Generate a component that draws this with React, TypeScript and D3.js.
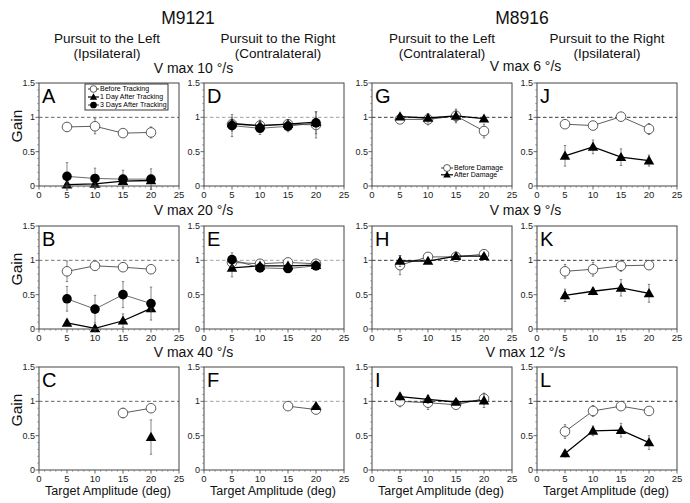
import React from 'react';
import * as d3 from 'd3';

// ---------- data ----------
const amplitudes = [5, 10, 15, 20];
const xTicks = [0, 5, 10, 15, 20, 25];
const yTicks = [0, 0.5, 1, 1.5];
const yTickLabels = ['0', '0.5', '1', '1.5'];

// M9121 – V max 10
const aBefore = [0.86, 0.87, 0.77, 0.78];
const aBeforeErr = [0.06, 0.11, 0.03, 0.08];
const aDay1 = [0.02, 0.03, 0.07, 0.08];
const aDay1Err = [0.01, 0.02, 0.03, 0.04];
const aDay3 = [0.14, 0.11, 0.1, 0.1];
const aDay3Err = [0.2, 0.15, 0.13, 0.15];

const dBefore = [0.9, 0.88, 0.9, 0.89];
const dBeforeErr = [0.1, 0.08, 0.06, 0.19];
const dDay1 = [0.91, 0.88, 0.9, 0.93];
const dDay1Err = [0.05, 0.05, 0.05, 0.05];
const dDay3 = [0.88, 0.84, 0.87, 0.92];
const dDay3Err = [0.16, 0.09, 0.08, 0.16];

// M9121 – V max 20
const bBefore = [0.84, 0.92, 0.9, 0.87];
const bBeforeErr = [0.15, 0.04, 0.06, 0.03];
const bDay1 = [0.09, 0.01, 0.12, 0.3];
const bDay1Err = [0.04, 0.02, 0.1, 0.05];
const bDay3 = [0.44, 0.29, 0.5, 0.37];
const bDay3Err = [0.18, 0.2, 0.19, 0.24];

const eBefore = [0.97, 0.95, 0.97, 0.95];
const eBeforeErr = [0.05, 0.04, 0.04, 0.03];
const eDay1 = [0.89, 0.92, 0.92, 0.93];
const eDay1Err = [0.13, 0.04, 0.04, 0.03];
const eDay3 = [1.01, 0.89, 0.88, 0.92];
const eDay3Err = [0.1, 0.04, 0.04, 0.04];

// M9121 – V max 40
const cBeforeAmps = [15, 20];
const cBefore = [0.83, 0.9];
const cBeforeErr = [0.07, 0.03];
const cDay1Amps = [20];
const cDay1 = [0.48];
const cDay1Err = [0.25];

const fBeforeAmps = [15, 20];
const fBefore = [0.93, 0.88];
const fBeforeErr = [0.03, 0.03];
const fDay1Amps = [20];
const fDay1 = [0.93];
const fDay1Err = [0.03];

// M8916 – V max 6
const gBefore = [0.97, 0.97, 1.02, 0.8];
const gBeforeErr = [0.04, 0.08, 0.1, 0.1];
const gAfter = [1.01, 0.99, 1.02, 0.98];
const gAfterErr = [0.03, 0.06, 0.08, 0.03];

const jBefore = [0.9, 0.88, 1.01, 0.83];
const jBeforeErr = [0.05, 0.05, 0.03, 0.08];
const jAfter = [0.44, 0.57, 0.42, 0.37];
const jAfterErr = [0.15, 0.1, 0.12, 0.08];

// M8916 – V max 9
const hBefore = [0.93, 1.05, 1.05, 1.09];
const hBeforeErr = [0.14, 0.04, 0.03, 0.04];
const hAfter = [0.99, 0.99, 1.06, 1.06];
const hAfterErr = [0.08, 0.03, 0.03, 0.03];

const kBefore = [0.84, 0.87, 0.92, 0.93];
const kBeforeErr = [0.1, 0.1, 0.08, 0.05];
const kAfter = [0.49, 0.55, 0.6, 0.52];
const kAfterErr = [0.09, 0.05, 0.12, 0.13];

// M8916 – V max 12
const iBefore = [1.0, 0.98, 0.95, 1.04];
const iBeforeErr = [0.08, 0.1, 0.05, 0.08];
const iAfter = [1.07, 1.03, 0.99, 1.01];
const iAfterErr = [0.05, 0.06, 0.04, 0.1];

const lBefore = [0.56, 0.86, 0.93, 0.86];
const lBeforeErr = [0.1, 0.08, 0.04, 0.03];
const lAfter = [0.24, 0.57, 0.58, 0.4];
const lAfterErr = [0.05, 0.07, 0.1, 0.1];

const leftLegend = ['Before Tracking', '1 Day After Tracking', '3 Days After Tracking'];
const rightLegend = ['Before Damage', 'After Damage'];
const velocityLeft = ['10', '20', '40'];
const velocityRight = ['6', '9', '12'];

// ---------- layout ----------
const W = 690;
const H = 503;
const colLeft = [39, 204, 372, 537];
const rowTop = [83, 226, 367];
const PW = 140;
const PH = 103;
const FONT = "'Liberation Sans', Arial, Helvetica, sans-serif";

type Kind = 'open' | 'tri' | 'filled';
interface Series { kind: Kind; x: number[]; y: number[]; err: number[] }
interface Panel { letter: string; col: number; row: number; dash: string; series: Series[] }

const S = (kind: Kind, x: number[], y: number[], err: number[]): Series => ({ kind, x, y, err });

const panels: Panel[] = [
  { letter: 'A', col: 0, row: 0, dash: '#555', series: [S('open', amplitudes, aBefore, aBeforeErr), S('tri', amplitudes, aDay1, aDay1Err), S('filled', amplitudes, aDay3, aDay3Err)] },
  { letter: 'B', col: 0, row: 1, dash: '#666', series: [S('open', amplitudes, bBefore, bBeforeErr), S('tri', amplitudes, bDay1, bDay1Err), S('filled', amplitudes, bDay3, bDay3Err)] },
  { letter: 'C', col: 0, row: 2, dash: '#555', series: [S('open', cBeforeAmps, cBefore, cBeforeErr), S('tri', cDay1Amps, cDay1, cDay1Err)] },
  { letter: 'D', col: 1, row: 0, dash: '#999', series: [S('open', amplitudes, dBefore, dBeforeErr), S('tri', amplitudes, dDay1, dDay1Err), S('filled', amplitudes, dDay3, dDay3Err)] },
  { letter: 'E', col: 1, row: 1, dash: '#999', series: [S('open', amplitudes, eBefore, eBeforeErr), S('tri', amplitudes, eDay1, eDay1Err), S('filled', amplitudes, eDay3, eDay3Err)] },
  { letter: 'F', col: 1, row: 2, dash: '#999', series: [S('open', fBeforeAmps, fBefore, fBeforeErr), S('tri', fDay1Amps, fDay1, fDay1Err)] },
  { letter: 'G', col: 2, row: 0, dash: '#222', series: [S('open', amplitudes, gBefore, gBeforeErr), S('tri', amplitudes, gAfter, gAfterErr)] },
  { letter: 'H', col: 2, row: 1, dash: '#222', series: [S('open', amplitudes, hBefore, hBeforeErr), S('tri', amplitudes, hAfter, hAfterErr)] },
  { letter: 'I', col: 2, row: 2, dash: '#222', series: [S('open', amplitudes, iBefore, iBeforeErr), S('tri', amplitudes, iAfter, iAfterErr)] },
  { letter: 'J', col: 3, row: 0, dash: '#222', series: [S('open', amplitudes, jBefore, jBeforeErr), S('tri', amplitudes, jAfter, jAfterErr)] },
  { letter: 'K', col: 3, row: 1, dash: '#222', series: [S('open', amplitudes, kBefore, kBeforeErr), S('tri', amplitudes, kAfter, kAfterErr)] },
  { letter: 'L', col: 3, row: 2, dash: '#222', series: [S('open', amplitudes, lBefore, lBeforeErr), S('tri', amplitudes, lAfter, lAfterErr)] },
];

const triPath = (size: number) => d3.symbol().type(d3.symbolTriangle).size(size)() as string;

function Marker({ kind, cx, cy, scale = 1 }: { kind: Kind; cx: number; cy: number; scale?: number }) {
  if (kind === 'open') return <circle cx={cx} cy={cy} r={4.8 * scale} fill="#fff" stroke="#333" strokeWidth={0.8} />;
  if (kind === 'filled') return <circle cx={cx} cy={cy} r={4.8 * scale} fill="#000" />;
  return <path d={triPath(48 * scale * scale)} transform={`translate(${cx},${cy + 0.8 * scale})`} fill="#000" />;
}

const lineStyle: Record<Kind, { stroke: string; w: number }> = {
  open: { stroke: '#333', w: 0.8 },
  tri: { stroke: '#000', w: 1.3 },
  filled: { stroke: '#444', w: 0.8 },
};

function PanelView({ p }: { p: Panel }) {
  const left = colLeft[p.col];
  const top = rowTop[p.row];
  const x = d3.scaleLinear().domain([0, 25]).range([left, left + PW]);
  const y = d3.scaleLinear().domain([0, 1.5]).range([top + PH, top]);
  const bottom = top + PH;
  const minorX = d3.range(0, 26, 1).filter((v) => v % 5 !== 0);
  const minorY = d3.range(0, 16, 1).map((v) => v / 10).filter((v) => Math.round(v * 10) % 5 !== 0);
  const line = d3.line<[number, number]>().x((d) => x(d[0])).y((d) => y(d[1]));
  return (
    <g>
      {/* reference line */}
      <line x1={x(0)} x2={x(25)} y1={y(1)} y2={y(1)} stroke={p.dash} strokeWidth={0.9} strokeDasharray="3.5,2.5" />
      {/* series */}
      {p.series.map((s, si) => {
        const pts = s.x.map((v, i) => [v, s.y[i]] as [number, number]);
        return (
          <g key={si}>
            {pts.map((d, i) => (
              <g key={'e' + i} stroke="#555" strokeWidth={0.7}>
                <line x1={x(d[0])} x2={x(d[0])} y1={y(d[1] - s.err[i])} y2={y(d[1] + s.err[i])} />
                <line x1={x(d[0]) - 1.2} x2={x(d[0]) + 1.2} y1={y(d[1] + s.err[i])} y2={y(d[1] + s.err[i])} />
                <line x1={x(d[0]) - 1.2} x2={x(d[0]) + 1.2} y1={y(d[1] - s.err[i])} y2={y(d[1] - s.err[i])} />
              </g>
            ))}
            {pts.length > 1 && (
              <path d={line(pts) as string} fill="none" stroke={lineStyle[s.kind].stroke} strokeWidth={lineStyle[s.kind].w} />
            )}
            {pts.map((d, i) => (
              <Marker key={'m' + i} kind={s.kind} cx={x(d[0])} cy={y(d[1])} />
            ))}
          </g>
        );
      })}
      {/* frame */}
      <rect x={left} y={top} width={PW} height={PH} fill="none" stroke="#444" strokeWidth={1} />
      {/* x ticks */}
      {xTicks.map((t) => (
        <g key={'xt' + t}>
          <line x1={x(t)} x2={x(t)} y1={bottom} y2={bottom + 3.5} stroke="#444" strokeWidth={0.8} />
          <text x={x(t)} y={bottom + 11.5} textAnchor="middle" fontSize={9.5} fill="#222">{t}</text>
        </g>
      ))}
      {minorX.map((t) => (
        <line key={'xm' + t} x1={x(t)} x2={x(t)} y1={bottom} y2={bottom + 1.8} stroke="#666" strokeWidth={0.6} />
      ))}
      {/* y ticks */}
      {yTicks.map((t, i) => (
        <g key={'yt' + t}>
          <line x1={left - 3.5} x2={left} y1={y(t)} y2={y(t)} stroke="#444" strokeWidth={0.8} />
          <text x={left - 4} y={y(t)} dy="0.33em" textAnchor="end" fontSize={9} fill="#222">{yTickLabels[i]}</text>
        </g>
      ))}
      {minorY.map((t) => (
        <line key={'ym' + t} x1={left - 1.8} x2={left} y1={y(t)} y2={y(t)} stroke="#666" strokeWidth={0.6} />
      ))}
      {/* letter */}
      <text x={left + 3} y={top + 19.5} fontSize={20} fill="#000">{p.letter}</text>
      {/* axis titles */}
      {p.col === 0 && (
        <text transform={`translate(${left - 17},${top + 43}) rotate(-90)`} textAnchor="middle" fontSize={15.5} fill="#111">Gain</text>
      )}
      {p.row === 2 && (
        <text x={left + PW / 2 - 1} y={bottom + 25} textAnchor="middle" fontSize={12.5} fill="#111">Target Amplitude (deg)</text>
      )}
    </g>
  );
}

function LegendA() {
  const left = colLeft[0];
  const top = rowTop[0];
  const kinds: Kind[] = ['open', 'tri', 'filled'];
  const bx = left + 46;
  const by = top + 1;
  return (
    <g>
      <rect x={bx} y={by} width={83} height={26} fill="#fff" stroke="#222" strokeWidth={0.9} />
      {kinds.map((k, i) => {
        const yy = by + 5 + i * 8;
        return (
          <g key={k}>
            <line x1={bx + 3} x2={bx + 14} y1={yy} y2={yy} stroke="#000" strokeWidth={k === 'tri' ? 1.2 : 0.8} />
            <Marker kind={k} cx={bx + 8.5} cy={yy} scale={0.7} />
            <text x={bx + 15} y={yy} dy="0.35em" fontSize={7} fill="#000">{leftLegend[i]}</text>
          </g>
        );
      })}
    </g>
  );
}

function LegendG() {
  const left = colLeft[2];
  const top = rowTop[0];
  const kinds: Kind[] = ['open', 'tri'];
  const lx = left + 69;
  return (
    <g>
      {kinds.map((k, i) => {
        const yy = top + 85 + i * 6.8;
        return (
          <g key={k}>
            <line x1={lx} x2={lx + 12} y1={yy} y2={yy} stroke="#000" strokeWidth={k === 'tri' ? 1.2 : 0.8} />
            <Marker kind={k} cx={lx + 6} cy={yy} scale={0.72} />
            <text x={lx + 13} y={yy} dy="0.35em" fontSize={7} fill="#000">{rightLegend[i]}</text>
          </g>
        );
      })}
    </g>
  );
}

export default function App() {
  const leftMid = (colLeft[0] + PW + colLeft[1]) / 2;
  const rightMid = (colLeft[2] + PW + colLeft[3]) / 2;
  const vBase = [73, 215, 357];
  return (
    <svg width={W} height={H} viewBox={`0 0 ${W} ${H}`} style={{ position: 'absolute', left: 0, top: 0, background: '#fff' }} fontFamily={FONT}>
      <rect x={0} y={0} width={W} height={H} fill="#fff" />
      {/* group titles */}
      <text x={188} y={24} textAnchor="middle" fontSize={17.5} fill="#111">M9121</text>
      <text x={522} y={24} textAnchor="middle" fontSize={17.5} fill="#111">M8916</text>
      <g fontSize={13.5} fill="#111" textAnchor="middle">
        <text x={107} y={43}>Pursuit to the Left</text>
        <text x={107} y={57.5}>(Ipsilateral)</text>
        <text x={278} y={43}>Pursuit to the Right</text>
        <text x={278} y={57.5}>(Contralateral)</text>
        <text x={442} y={43}>Pursuit to the Left</text>
        <text x={442} y={57.5}>(Contralateral)</text>
        <text x={607} y={43}>Pursuit to the Right</text>
        <text x={607} y={57.5}>(Ipsilateral)</text>
      </g>
      <g fontSize={14} fill="#111" textAnchor="middle">
        {vBase.map((b, i) => (
          <text key={'vl' + i} x={leftMid + 2} y={b}>{`V max ${velocityLeft[i]} °/s`}</text>
        ))}
        {vBase.map((b, i) => (
          <text key={'vr' + i} x={rightMid + 1} y={b - (i === 0 ? 2 : 0)}>{`V max ${velocityRight[i]} °/s`}</text>
        ))}
      </g>
      {panels.map((p) => (
        <PanelView key={p.letter} p={p} />
      ))}
      <LegendA />
      <LegendG />
    </svg>
  );
}
